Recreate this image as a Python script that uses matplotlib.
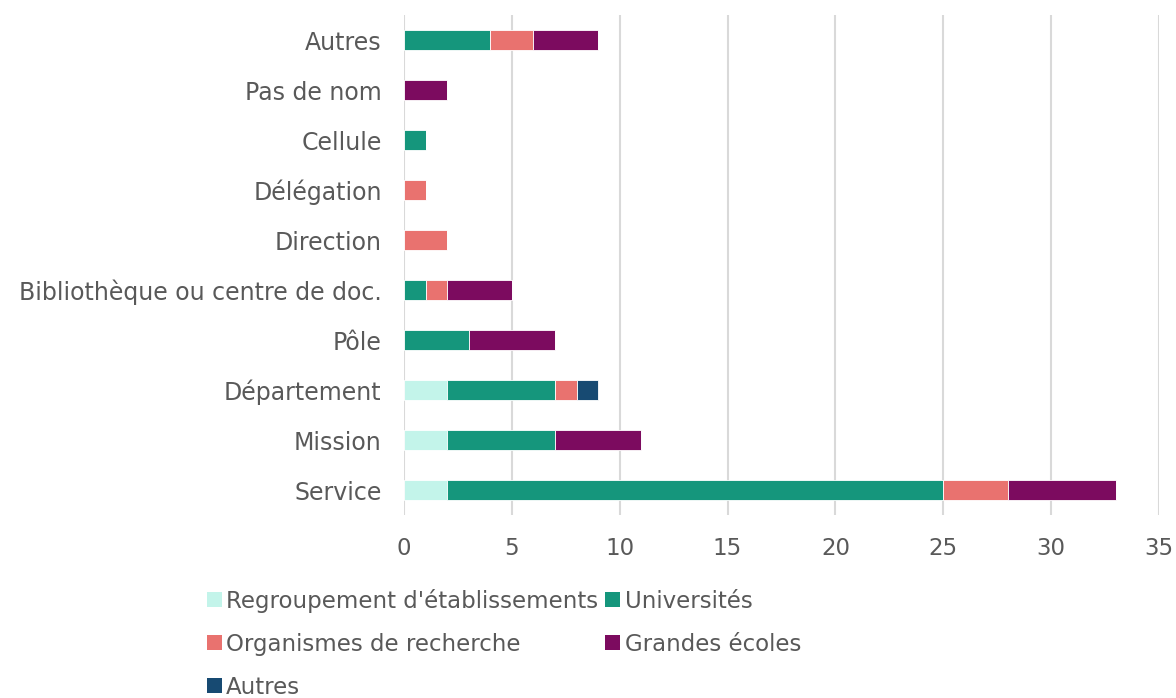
import numpy as np
import matplotlib.pyplot as plt
from matplotlib.patches import Patch

categories = ['Service', 'Mission', 'Département', 'Pôle', 'Bibliothèque ou centre de doc.',
              'Direction', 'Délégation', 'Cellule', 'Pas de nom', 'Autres']
regroupement = [2, 2, 2, 0, 0, 0, 0, 0, 0, 0]
universites = [23, 5, 5, 3, 1, 0, 0, 1, 0, 4]
organismes = [3, 0, 1, 0, 1, 2, 1, 0, 0, 2]
grandes_ecoles = [5, 4, 0, 4, 3, 0, 0, 0, 2, 3]
autres = [0, 0, 1, 0, 0, 0, 0, 0, 0, 0]

series = [
    ("Regroupement d'établissements", regroupement, '#C3F4EA'),
    ('Universités', universites, '#15967C'),
    ('Organismes de recherche', organismes, '#E9726F'),
    ('Grandes écoles', grandes_ecoles, '#7C0B5F'),
    ('Autres', autres, '#174A72'),
]

txt = '#595959'
plt.rcParams['font.family'] = 'DejaVu Sans'

fig = plt.figure(figsize=(11.76, 6.98), dpi=100)
ax = fig.add_axes([0.3435, 0.262, 0.642, 0.7165])

y = np.arange(len(categories))
left = np.zeros(len(categories))
handles = {}
for name, vals, col in series:
    vals = np.array(vals, dtype=float)
    ax.barh(y, vals, left=left, height=0.4, color=col, edgecolor='white', linewidth=0.6, zorder=3)
    handles[name] = Patch(facecolor=col, edgecolor='none')
    left += vals

ax.set_ylim(-0.5, len(categories) - 0.5)
ax.set_xlim(0, 35)
ax.set_xticks(np.arange(0, 36, 5))
ax.set_yticks(y)
ax.set_yticklabels(categories)
ax.tick_params(axis='both', length=0, labelcolor=txt)
ax.tick_params(axis='x', pad=16, labelsize=16.5)
ax.tick_params(axis='y', pad=16, labelsize=17)
ax.grid(axis='x', color='#D9D9D9', linewidth=1.5, zorder=0)
for s in ax.spines.values():
    s.set_visible(False)

order = ["Regroupement d'établissements", 'Organismes de recherche', 'Autres',
         'Universités', 'Grandes écoles']
leg = fig.legend([handles[n] for n in order], order, ncol=2, loc='upper left',
                 bbox_to_anchor=(0.168, 0.17), frameon=False, fontsize=16.5,
                 handlelength=0.65, handleheight=0.65, handletextpad=0.2,
                 columnspacing=0.3, labelspacing=0.88, borderaxespad=0)
for t in leg.get_texts():
    t.set_color(txt)

fig.savefig('out.png', dpi=100)
